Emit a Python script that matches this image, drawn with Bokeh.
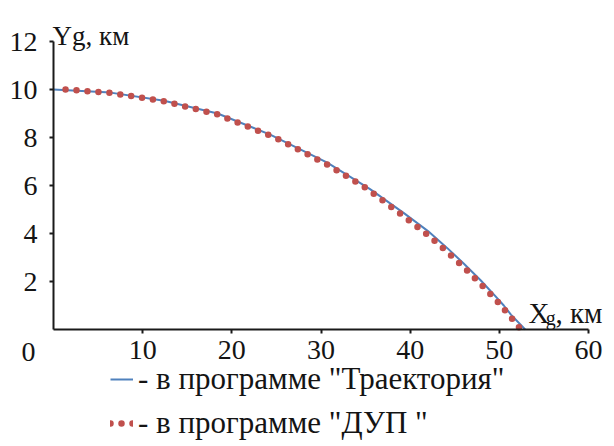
from bokeh.plotting import figure
from bokeh.models import Range1d, FixedTicker, Legend, LegendItem, Label
from bokeh.embed import file_html
from bokeh.resources import INLINE

# Data (km)
traj_x = [0.0, 6.4, 12.4, 18.4, 24.3, 30.7, 35.5, 39.3, 42.0, 44.2, 46.0, 47.9, 49.4, 50.5, 51.3, 52.9]
traj_y = [10.0, 9.87, 9.53, 9.0, 8.12, 6.95, 5.85, 4.85, 4.1, 3.38, 2.75, 2.05, 1.45, 1.0, 0.62, 0.0]

dup_x = [1.35, 6.4, 12.4, 18.4, 24.3, 25.4, 30.9, 35.2, 39.3, 42.0, 44.2, 46.0, 47.9, 49.6, 51.3, 52.4]
dup_y = [10.0, 9.86, 9.51, 8.96, 8.08, 7.9, 6.83, 5.86, 4.71, 3.93, 3.22, 2.6, 1.9, 1.25, 0.51, 0.0]

x_ticks = [10, 20, 30, 40, 50, 60]
y_ticks = [2, 4, 6, 8, 10, 12]

label_traj = '- в программе "Траектория"'
label_dup = '- в программе "ДУП "'

SERIF = "Liberation Serif"
TXT = "#141414"

W, H = 614, 446
PX_PER_X = 535 / 60.0
PX_PER_Y = 288 / 12.0
X0_PX, Y0_PX = 53, 329

x_range = Range1d(-X0_PX / PX_PER_X, (W - X0_PX) / PX_PER_X)
y_range = Range1d(-(H - Y0_PX) / PX_PER_Y, Y0_PX / PX_PER_Y)

p = figure(width=W, height=H, x_range=x_range, y_range=y_range,
           output_backend="svg", toolbar_location=None,
           min_border_left=0, min_border_right=0, min_border_top=0, min_border_bottom=0)
p.outline_line_color = None
p.xgrid.visible = False
p.ygrid.visible = False
p.background_fill_color = "white"
p.border_fill_color = "white"

for ax in (p.xaxis[0], p.yaxis[0]):
    ax.fixed_location = 0
    ax.axis_line_color = "#1a1a1a"
    ax.axis_line_width = 2
    ax.major_tick_line_color = "#1a1a1a"
    ax.major_tick_line_width = 2
    ax.major_tick_out = 4
    ax.major_tick_in = 0
    ax.minor_tick_line_color = None
    ax.major_label_text_font = SERIF
    ax.major_label_text_font_size = "28px"
    ax.major_label_text_color = TXT

p.xaxis.bounds = (0, 60)
p.yaxis.bounds = (0, 12)
p.xaxis.ticker = FixedTicker(ticks=x_ticks)
p.yaxis.ticker = FixedTicker(ticks=y_ticks)
p.xaxis.major_label_standoff = 7
p.yaxis.major_label_standoff = 12

r_traj = p.line(traj_x, traj_y, line_color="#4F81BD", line_width=2)
r_dup = p.line(dup_x, dup_y, line_color="#C0504D", line_width=6.5,
               line_dash="0 11", line_cap="round")

legend = Legend(items=[LegendItem(label=label_traj, renderers=[r_traj]),
                       LegendItem(label=label_dup, renderers=[r_dup])],
                location=(110, 5), orientation="vertical",
                label_text_font=SERIF, label_text_font_size="31px",
                label_text_color=TXT, glyph_width=23, glyph_height=30,
                label_height=30, label_standoff=5, spacing=8,
                padding=0, margin=0, background_fill_alpha=0,
                border_line_alpha=0)
p.add_layout(legend, "center")

p.add_layout(Label(x=-0.1, y=12.21, text="Yg, км", text_font=SERIF,
                   text_font_size="27px", text_color=TXT, text_baseline="alphabetic"))
p.add_layout(Label(x=53.27, y=0.667, text="X", text_font=SERIF,
                   text_font_size="29px", text_color=TXT, text_baseline="alphabetic"))
p.add_layout(Label(x=55.2, y=0.5, text="g", text_font=SERIF,
                   text_font_size="20px", text_color=TXT, text_baseline="alphabetic"))
p.add_layout(Label(x=56.3, y=0.667, text=", км", text_font=SERIF,
                   text_font_size="29px", text_color=TXT, text_baseline="alphabetic"))
p.add_layout(Label(x=-2.8, y=-0.92, text="0", text_font=SERIF, text_align="center",
                   text_font_size="28px", text_color=TXT, text_baseline="alphabetic"))

open("out.html", "w").write(file_html(p, INLINE))
